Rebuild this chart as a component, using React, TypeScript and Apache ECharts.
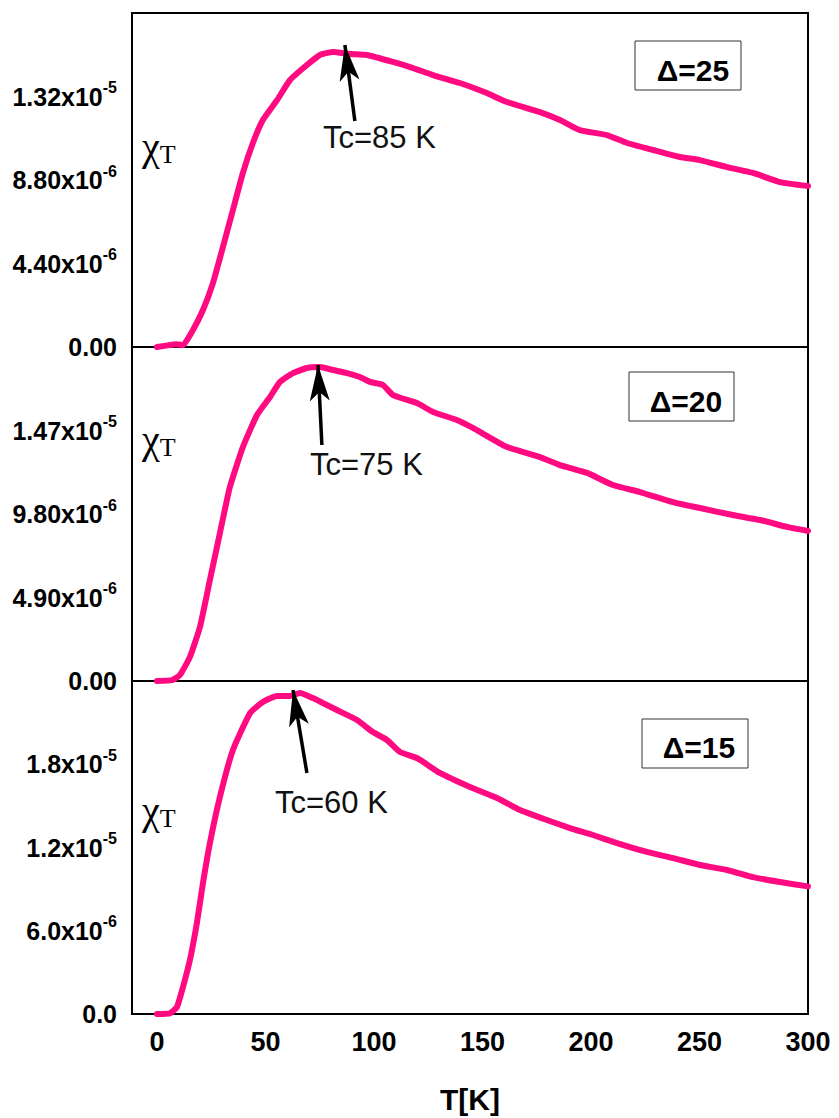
import { useEffect, useRef } from 'react';
import * as echarts from 'echarts';

// ---- data (T in K, chi_T in units of 1e-6) ----
const p1T = [0, 9, 12, 16.6, 21.2, 25.8, 30.4, 35, 39.6, 44.2, 48.8, 55.3, 61.3, 69.1, 75.1, 81.1, 88.9, 96.8, 108.8, 118, 127.2, 139.6, 152, 161.3, 176.5, 185.7, 194.9, 207.4, 216.6, 228.6, 241, 250.2, 262.7, 274.7, 287.1, 300];
const p1V = [0, 0.15, 0.1, 0.9, 1.95, 3.37, 5.27, 7.22, 9.17, 10.75, 11.96, 13.0, 14.07, 14.86, 15.39, 15.54, 15.44, 15.39, 15.02, 14.7, 14.33, 13.91, 13.38, 12.91, 12.38, 11.96, 11.43, 11.17, 10.75, 10.38, 10.01, 9.85, 9.48, 9.17, 8.69, 8.48];

const p2T = [0, 7, 10.6, 15.2, 19.8, 24.4, 29, 33.6, 39.6, 46.1, 52.1, 56.7, 62.7, 69.1, 75.1, 81.1, 87.6, 93.5, 98.2, 104.1, 108.8, 119.8, 127.2, 138.2, 145.6, 161.3, 176.5, 185.7, 198.2, 210.1, 222.6, 237.8, 250.2, 265.4, 277.9, 290.3, 300];
const p2V = [0, 0.05, 0.35, 1.41, 3.17, 5.93, 8.68, 11.38, 13.73, 15.61, 16.67, 17.55, 18.07, 18.37, 18.43, 18.25, 18.07, 17.84, 17.55, 17.37, 16.78, 16.31, 15.79, 15.32, 14.85, 13.73, 13.14, 12.67, 12.21, 11.5, 11.09, 10.5, 10.15, 9.74, 9.45, 9.04, 8.8];

const p3T = [0, 6, 9.2, 12, 15.2, 18.4, 21.2, 24.4, 29, 35, 42.9, 48.8, 55.3, 61.3, 65.9, 71.9, 76.5, 82.9, 92.2, 99.5, 106, 112, 119.8, 130.4, 144.2, 156.7, 167.3, 179.7, 190.3, 200.9, 212, 225.8, 237.8, 250.2, 262.7, 274.7, 287.1, 300];
const p3V = [0, 0.05, 0.5, 1.95, 3.9, 6.56, 9.44, 12.32, 15.64, 19.03, 21.69, 22.49, 22.92, 22.92, 23.13, 22.77, 22.41, 21.91, 21.19, 20.32, 19.75, 18.88, 18.45, 17.37, 16.36, 15.57, 14.7, 13.98, 13.4, 12.9, 12.32, 11.68, 11.24, 10.74, 10.38, 9.87, 9.51, 9.2];

// y axis ticks per panel (units 1e-6) and their labels [mantissa, exponent]
const yMax = [17.6, 19.6, 24];
const yTickVals = [
  [0, 4.4, 8.8, 13.2],
  [0, 4.9, 9.8, 14.7],
  [0, 6, 12, 18],
];
const yTickLabels = [
  [['0.00', ''], ['4.40x10', '-6'], ['8.80x10', '-6'], ['1.32x10', '-5']],
  [['0.00', ''], ['4.90x10', '-6'], ['9.80x10', '-6'], ['1.47x10', '-5']],
  [['0.0', ''], ['6.0x10', '-6'], ['1.2x10', '-5'], ['1.8x10', '-5']],
];

const xTicks = [0, 50, 100, 150, 200, 250, 300];
const deltas = ['Δ=25', 'Δ=20', 'Δ=15'];
const tcLabels = ['Tc=85 K', 'Tc=75 K', 'Tc=60 K'];
// arrow start (tail) and end (tip) in data coords [T, chi*1e6]
const arrowFrom = [[91.2, 11.91], [76.0, 13.85], [69.1, 17.37]];
const arrowTo = [[86.6, 15.91], [74.2, 18.54], [62.7, 23.35]];

const FONT = "'Liberation Sans', Arial, sans-serif";
const SERIF = "'Liberation Serif', 'Times New Roman', serif";
const PINK = '#FF0A80';

const grids = [
  { left: 132, top: 13, width: 676, height: 334 },
  { left: 132, top: 347, width: 676, height: 334 },
  { left: 132, top: 681, width: 676, height: 333 },
];

const deltaBox = [
  { x: 635, y: 41, w: 106, h: 49, tx: 693, ty: 70 },
  { x: 629, y: 372, w: 105, h: 49, tx: 686, ty: 401 },
  { x: 642, y: 719, w: 106, h: 49, tx: 699, ty: 747 },
];
const tcPos = [
  { x: 323, y: 137 },
  { x: 310, y: 464 },
  { x: 275, y: 802 },
];
const chiPos = [
  { x: 142, y: 146 },
  { x: 142, y: 439 },
  { x: 142, y: 810 },
];

function buildOption() {
  const series = [
    [p1T, p1V],
    [p2T, p2V],
    [p3T, p3V],
  ].map(([ts, vs], i) => ({
    type: 'line',
    xAxisIndex: i,
    yAxisIndex: i,
    data: ts.map((t, k) => [t, vs[k]]),
    showSymbol: false,
    smooth: 0.15,
    lineStyle: { color: PINK, width: 6, join: 'round', cap: 'round' },
    itemStyle: { color: PINK },
    silent: true,
    markLine: {
      silent: true,
      symbol: ['none', 'arrow'],
      symbolSize: [15, 36],
      label: { show: false },
      lineStyle: { color: '#000', width: 3.5, type: 'solid' },
      itemStyle: { color: '#000' },
      data: [[{ coord: arrowFrom[i] }, { coord: arrowTo[i] }]],
    },
  }));

  const graphic: any[] = [];
  for (let i = 0; i < 3; i++) {
    const b = deltaBox[i];
    graphic.push({
      type: 'rect',
      shape: { x: b.x, y: b.y, width: b.w, height: b.h },
      style: { fill: '#fff', stroke: '#333', lineWidth: 1 },
      z: 10,
    });
    graphic.push({
      type: 'text',
      x: b.tx,
      y: b.ty,
      style: { text: deltas[i], font: `bold 30px ${FONT}`, fill: '#000', align: 'center', verticalAlign: 'middle' },
      z: 11,
    });
    graphic.push({
      type: 'text',
      x: tcPos[i].x,
      y: tcPos[i].y,
      style: { text: tcLabels[i], font: `31px ${FONT}`, fill: '#111', align: 'left', verticalAlign: 'middle' },
      z: 11,
    });
    graphic.push({
      type: 'text',
      x: chiPos[i].x,
      y: chiPos[i].y,
      style: {
        text: '{c|χ}{t|T}',
        align: 'left',
        verticalAlign: 'middle',
        fill: '#000',
        rich: {
          c: { fontFamily: SERIF, fontSize: 40, fill: '#000' },
          t: { fontFamily: SERIF, fontSize: 26, fill: '#000', padding: [16, 0, 0, 0] },
        },
      },
      z: 11,
    });
  }

  return {
    animation: false,
    backgroundColor: '#fff',
    grid: grids.map((g) => ({ ...g, show: true, borderColor: '#000', borderWidth: 2, backgroundColor: 'transparent' })),
    xAxis: grids.map((_, i) => ({
      type: 'value',
      gridIndex: i,
      min: -11.5,
      max: 300,
      axisLine: { show: false },
      axisTick: { show: false },
      splitLine: { show: false },
      axisLabel: {
        show: i === 2,
        customValues: xTicks,
        margin: 14,
        color: '#000',
        fontFamily: FONT,
        fontWeight: 'bold',
        fontSize: 27,
        formatter: (v: number) => String(v),
      },
      name: i === 2 ? 'T[K]' : '',
      nameLocation: 'middle',
      nameGap: 70,
      nameTextStyle: { color: '#000', fontFamily: FONT, fontWeight: 'bold', fontSize: 30 },
    })),
    yAxis: grids.map((_, i) => ({
      type: 'value',
      gridIndex: i,
      min: 0,
      max: yMax[i],
      axisLine: { show: false },
      axisTick: { show: false },
      splitLine: { show: false },
      axisLabel: {
        customValues: yTickVals[i],
        margin: 15,
        formatter: (v: number) => {
          const k = yTickVals[i].findIndex((t) => Math.abs(t - v) < 1e-9);
          if (k < 0) return '';
          const [m, e] = yTickLabels[i][k];
          return e ? `{m|${m}}{s|${e}}` : `{m|${m}}`;
        },
        rich: {
          m: { fontFamily: FONT, fontWeight: 'bold', fontSize: 25, color: '#000' },
          s: { fontFamily: FONT, fontWeight: 'bold', fontSize: 16, color: '#000', padding: [0, 0, 18, 0] },
        },
      },
    })),
    series,
    graphic,
  };
}

export default function App() {
  const ref = useRef<HTMLDivElement>(null);
  useEffect(() => {
    const chart = echarts.init(ref.current!, null, { renderer: 'svg' });
    chart.setOption(buildOption() as any);
    return () => chart.dispose();
  }, []);
  return (
    <div
      ref={ref}
      style={{ position: 'absolute', left: 0, top: 0, width: 839, height: 1118, background: '#fff' }}
    />
  );
}
